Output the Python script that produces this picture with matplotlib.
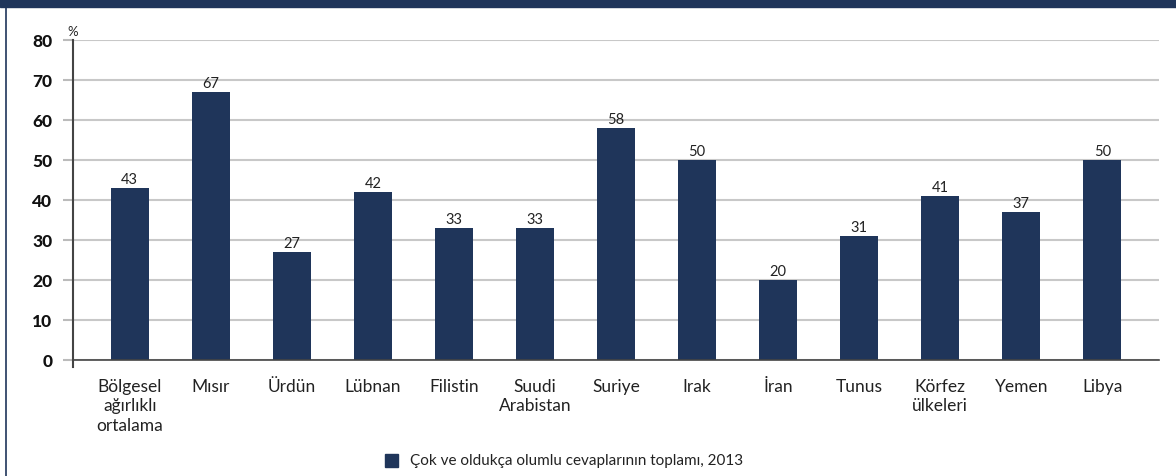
import matplotlib
matplotlib.use("Agg")
import matplotlib.pyplot as plt
from matplotlib.patches import Rectangle
from matplotlib.lines import Line2D

categories = ["Bölgesel\nağırlıklı\nortalama", "Mısır", "Ürdün", "Lübnan", "Filistin",
              "Suudi\nArabistan", "Suriye", "Irak", "İran", "Tunus",
              "Körfez\nülkeleri", "Yemen", "Libya"]
values = [43, 67, 27, 42, 33, 33, 58, 50, 20, 31, 41, 37, 50]
yticks = [0, 10, 20, 30, 40, 50, 60, 70, 80]
legend_label = "Çok ve oldukça olumlu cevaplarının toplamı, 2013"

NAVY = "#1f355a"
plt.rcParams['font.family'] = ['Lato', 'DejaVu Sans']

W, H = 1176, 477
fig = plt.figure(figsize=(W/100, H/100), dpi=100)
ax = fig.add_axes([73/W, 1-361/H, (1159-73)/W, (361-41)/H])

x = list(range(len(categories)))
ax.bar(x, values, width=0.47, color=NAVY, zorder=3)
for xi, v in zip(x, values):
    ax.text(xi, v + 0.6, str(v), ha='center', va='bottom', fontsize=10.5, color='#222222')

ax.set_xlim(-0.7, len(categories) - 0.3)
ax.set_ylim(0, 80)
ax.set_yticks(yticks)
ax.set_yticklabels([str(t) for t in yticks], fontsize=12.5, fontweight='black', color='#111111')
ax.tick_params(axis='y', length=7, color='#bbbbbb', width=1.5, pad=8)
ax.set_xticks(x)
ax.set_xticklabels(categories, fontsize=12.5, color='#222222', linespacing=1.25)
ax.tick_params(axis='x', length=0, pad=13)
ax.yaxis.grid(True, color='#c8c8c8', linewidth=1.5, zorder=0)
for s in ['top', 'right', 'left']:
    ax.spines[s].set_visible(False)
ax.spines['bottom'].set_color('#444444')
ax.spines['bottom'].set_linewidth(1.2)
ax.spines['bottom'].set_zorder(4)
# vertical axis line extending slightly below 0
ax.plot([-0.7, -0.7], [-1.8, 80], color='#444444', linewidth=1.5, clip_on=False, zorder=4)

fig.text(67/W, 1-32/H, "%", fontsize=9.5, color='#222222', ha='left', va='center')

# header strip and left border
fig.patches.append(Rectangle((0, 1-8/H), 1, 8/H, transform=fig.transFigure, color=NAVY, zorder=0))
fig.lines.append(Line2D([6/W, 6/W], [0, 1], transform=fig.transFigure, color=NAVY, linewidth=1.2))

# legend
fig.patches.append(Rectangle((385/W, 1-468/H), 13/W, 13/H, transform=fig.transFigure, color=NAVY))
fig.text(410/W, 1-461/H, legend_label, fontsize=11, color='#222222', ha='left', va='center')

fig.savefig("out.png", dpi=100)
